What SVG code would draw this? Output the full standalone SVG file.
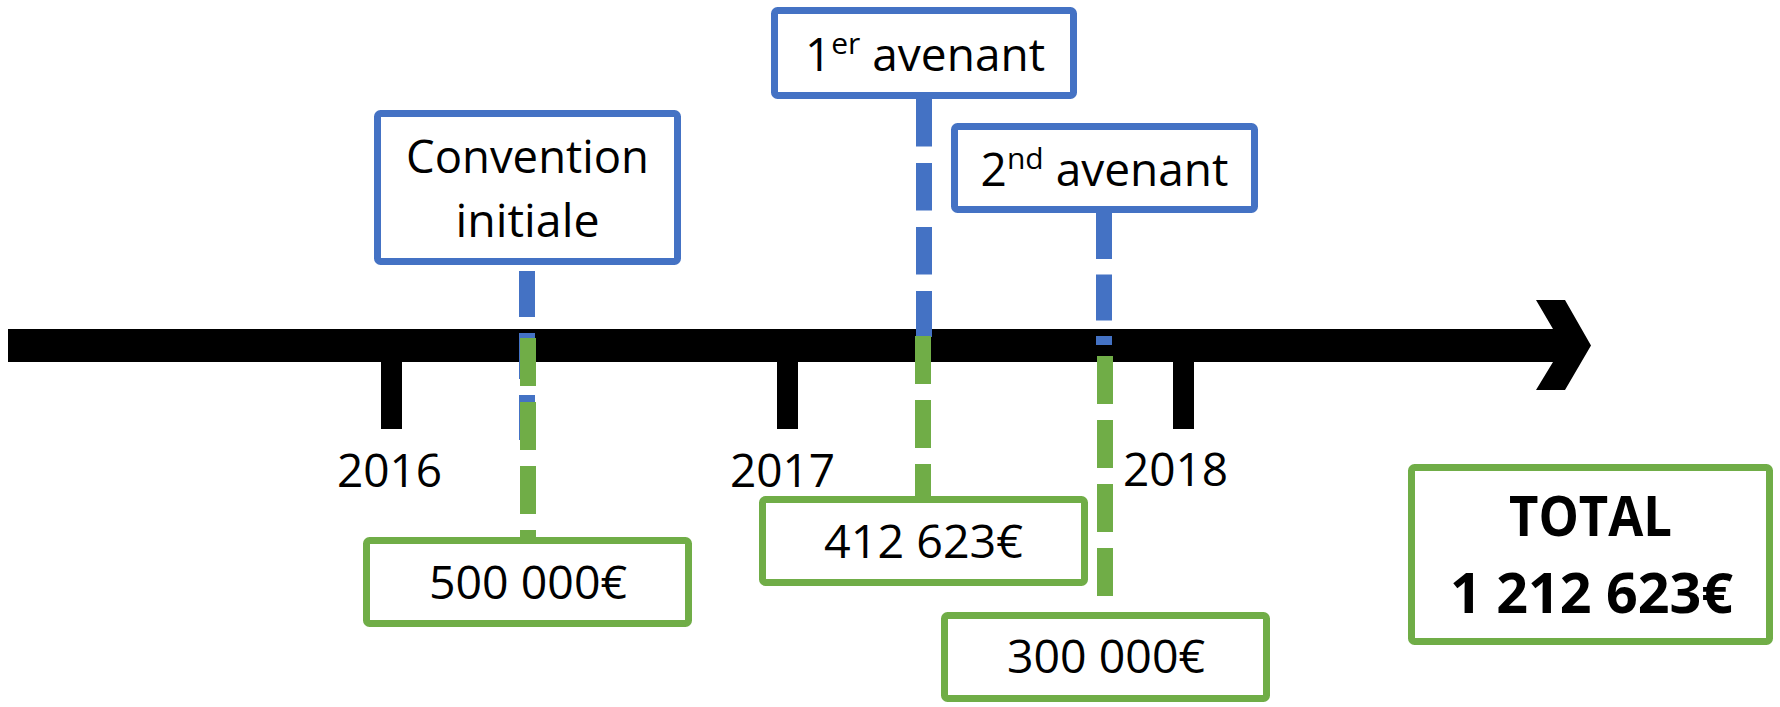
<svg xmlns="http://www.w3.org/2000/svg" width="1780" height="707" viewBox="0 0 1780 707">
<style>
  .t { font-family: "Open Sans", "Liberation Sans", sans-serif; font-size: 46px; fill: #000; text-anchor: middle; }
  .b { font-weight: bold; font-size: 56px; }
  .blue { fill: #fff; stroke: #4472C4; stroke-width: 7; }
  .green { fill: #fff; stroke: #70AD47; stroke-width: 7; }
  .cb { stroke: #4472C4; stroke-width: 16; fill: none; }
  .cg { stroke: #70AD47; stroke-width: 16; fill: none; }
  .tick { fill: #000; }
</style>
<rect width="1780" height="707" fill="#fff"/>

<g id="timeline">
  <path d="M8,329 H1553 L1536,300 H1565 L1591,345.5 L1565,390 H1536 L1553,362 H8 Z" fill="#000"/>
  <rect class="tick" x="381" y="362" width="21" height="67"/>
  <rect class="tick" x="777" y="362" width="21" height="67"/>
  <rect class="tick" x="1173" y="362" width="21" height="67"/>
  <text class="t" x="389.5" y="487">2016</text>
  <text class="t" x="782.5" y="487">2017</text>
  <text class="t" x="1175.5" y="486">2018</text>
</g>

<g id="connectors">
  <line class="cb" x1="527" y1="271" x2="527" y2="440" stroke-dasharray="46 16"/>
  <line class="cg" x1="528" y1="338" x2="528" y2="537" stroke-dasharray="48 16"/>
  <line class="cb" x1="924" y1="99" x2="924" y2="337" stroke-dasharray="47.5 16.5"/>
  <line class="cg" x1="923" y1="336" x2="923" y2="497" stroke-dasharray="48 16"/>
  <line class="cb" x1="1104" y1="213" x2="1104" y2="345" stroke-dasharray="46 15.5"/>
  <line class="cg" x1="1105" y1="356" x2="1105" y2="596" stroke-dasharray="48 16"/>
</g>

<g id="convention-initiale">
  <rect class="blue" x="377.5" y="113.5" width="300" height="148" rx="3"/>
  <text class="t" x="527.5" y="173" textLength="243" lengthAdjust="spacingAndGlyphs">Convention</text>
  <text class="t" x="527.5" y="237" textLength="144" lengthAdjust="spacingAndGlyphs">initiale</text>
</g>

<g id="avenant-1">
  <rect class="blue" x="774.5" y="10.5" width="299" height="85" rx="3"/>
  <text class="t" x="925" y="71">1<tspan font-size="30" dy="-17">er</tspan><tspan dy="17"> avenant</tspan></text>
</g>

<g id="avenant-2">
  <rect class="blue" x="954.5" y="126.5" width="300" height="83" rx="3"/>
  <text class="t" x="1104.5" y="186">2<tspan font-size="30" dy="-17">nd</tspan><tspan dy="17"> avenant</tspan></text>
</g>

<g id="montant-500000">
  <rect class="green" x="366.5" y="540.5" width="322" height="83" rx="3"/>
  <text class="t" x="528" y="599" textLength="198" lengthAdjust="spacingAndGlyphs">500 000€</text>
</g>

<g id="montant-412623">
  <rect class="green" x="762.5" y="499.5" width="322" height="83" rx="3"/>
  <text class="t" x="923.5" y="558" textLength="199" lengthAdjust="spacingAndGlyphs">412 623€</text>
</g>

<g id="montant-300000">
  <rect class="green" x="944.5" y="615.5" width="322" height="83" rx="3"/>
  <text class="t" x="1106" y="673" textLength="198" lengthAdjust="spacingAndGlyphs">300 000€</text>
</g>

<g id="total">
  <rect class="green" x="1411.5" y="467.5" width="358" height="174" rx="3"/>
  <text class="t b" x="1590.5" y="536" textLength="163" lengthAdjust="spacingAndGlyphs">TOTAL</text>
  <text class="t b" x="1591.5" y="613" textLength="283" lengthAdjust="spacingAndGlyphs">1 212 623€</text>
</g>
</svg>
